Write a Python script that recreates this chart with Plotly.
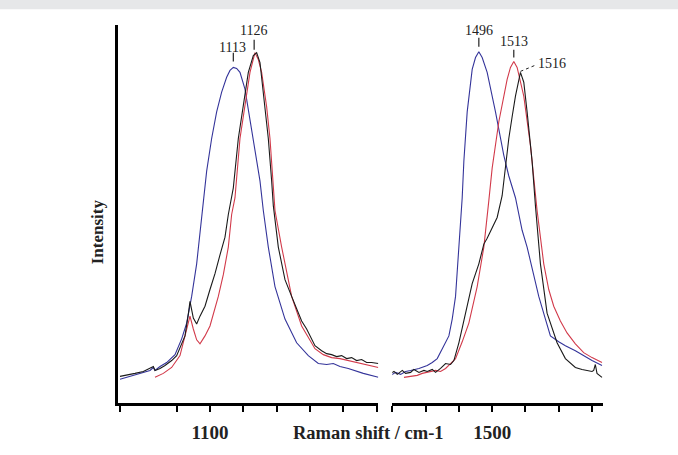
import plotly.graph_objects as go

# ---------------- data ----------------
# left window (~1045-1201 cm-1)
blue_l_x = [1046, 1050, 1055, 1060, 1064, 1066, 1067, 1070, 1074, 1079, 1083, 1086, 1089, 1092, 1095, 1098,
            1101, 1104, 1107, 1110, 1112, 1114, 1116, 1118, 1121, 1124, 1127, 1130, 1132, 1135, 1139,
            1145, 1152, 1159, 1165, 1170, 1174, 1178, 1183, 1192, 1201]
blue_l_y = [24, 26, 28, 31, 33, 36, 33, 37, 41, 49, 65, 81, 108, 141, 188, 235,
            268, 295, 315, 330, 337, 340, 339, 335, 318, 288, 258, 225, 195, 158, 118,
            85, 61, 48, 40, 39, 40, 37, 35, 30, 26]

black_l_x = [1046, 1050, 1055, 1060, 1064, 1066, 1067, 1070, 1073, 1077, 1080, 1085, 1087, 1088, 1090, 1092,
             1094, 1097, 1100, 1103, 1106, 1109, 1111, 1114, 1117, 1120, 1123, 1126, 1128, 1130, 1133,
             1135, 1137, 1138, 1141, 1145, 1149, 1152, 1155, 1158, 1163, 1167, 1170, 1173, 1176,
             1179, 1182, 1185, 1188, 1191, 1194, 1197, 1201]
black_l_y = [27, 28, 30, 32, 35, 37, 33, 35, 38, 43, 48, 68, 90, 103, 86, 80,
             88, 98, 115, 131, 150, 168, 191, 218, 268, 301, 335, 352, 355, 345, 300,
             268, 225, 200, 158, 125, 108, 95, 83, 75, 58, 53, 50, 49, 47,
             48, 45, 46, 43, 44, 41, 41, 40]

red_l_x = [1067, 1072, 1077, 1082, 1085, 1088, 1090, 1092, 1094, 1097, 1100, 1105, 1108, 1111, 1113, 1115,
           1118, 1121, 1124, 1127, 1129, 1131, 1134, 1136, 1138, 1139, 1143, 1149, 1155, 1163, 1168,
           1173, 1178, 1183, 1192, 1201]
red_l_y = [26, 30, 36, 48, 68, 88, 75, 64, 60, 68, 78, 108, 130, 158, 191, 208,
           268, 301, 335, 355, 348, 335, 300, 268, 215, 195, 158, 108, 78, 55, 49,
           46, 45, 43, 40, 36]

# right window (~1440-1567 cm-1)
blue_r_x = [1439, 1442, 1445, 1448, 1451, 1456, 1461, 1464, 1467, 1470, 1474, 1476, 1478, 1480, 1482, 1483,
            1485, 1488, 1490, 1492, 1494, 1497, 1502, 1507, 1510, 1514, 1518, 1521, 1525, 1528, 1532,
            1535, 1540, 1544, 1550, 1555, 1560, 1566]
blue_r_y = [28, 31, 29, 32, 33, 35, 38, 41, 45, 55, 68, 85, 108, 158, 208, 245,
            295, 338, 350, 356, 350, 335, 295, 251, 230, 208, 175, 158, 130, 108, 85,
            68, 62, 58, 53, 48, 43, 38]

red_r_x = [1447, 1451, 1455, 1458, 1461, 1466, 1469, 1472, 1475, 1478, 1482, 1486, 1491, 1495, 1498, 1500,
           1504, 1507, 1509, 1511, 1513, 1515, 1517, 1519, 1523, 1526, 1527, 1531, 1534, 1537, 1541,
           1545, 1550, 1555, 1560, 1566]
red_r_y = [26, 27, 28, 30, 31, 33, 32, 35, 40, 45, 62, 81, 118, 158, 205, 238,
           285, 310, 328, 340, 346, 340, 325, 311, 261, 210, 195, 141, 115, 98, 83,
           71, 60, 51, 46, 41]

black_r_x = [1439, 1441, 1443, 1446, 1448, 1451, 1453, 1456, 1459, 1461, 1464, 1466, 1469, 1471, 1472, 1475,
             1477, 1480, 1482, 1484, 1486, 1488, 1492, 1495, 1497, 1500, 1503, 1506, 1508, 1510, 1512,
             1514, 1517, 1519, 1521, 1524, 1526, 1529, 1533, 1536, 1539, 1544, 1550, 1554, 1557, 1560,
             1561, 1562, 1563, 1566]
black_r_y = [30, 32, 29, 33, 30, 31, 34, 31, 33, 32, 34, 31, 35, 38, 40, 39,
             43, 61, 76, 91, 106, 121, 141, 161, 167, 178, 188, 210, 240, 268, 290,
             311, 335, 325, 295, 245, 200, 141, 91, 75, 61, 45, 36, 34, 33, 32,
             33, 39, 30, 26]

left_ticks = [1046, 1080, 1100, 1120, 1140, 1160, 1180, 1200]
left_ticktext = ["", "", "1100", "", "", "", "", ""]
right_ticks = [1440, 1460, 1480, 1500, 1520, 1540, 1560]
right_ticktext = ["", "", "", "1500", "", "", ""]

peak_labels = ["1113", "1126", "1496", "1513", "1516"]

# ---------------- style ----------------
BLUE = "#34349a"
RED = "#d23a4a"
BLACK = "#1a1a1a"
SERIF = "Liberation Serif, Times New Roman, serif"

fig = go.Figure()
for xs, ys, col in [(blue_l_x, blue_l_y, BLUE), (red_l_x, red_l_y, RED), (black_l_x, black_l_y, BLACK)]:
    fig.add_trace(go.Scatter(x=xs, y=ys, mode="lines", line=dict(color=col, width=1.1),
                             xaxis="x", yaxis="y", showlegend=False, hoverinfo="skip"))
for xs, ys, col in [(blue_r_x, blue_r_y, BLUE), (red_r_x, red_r_y, RED), (black_r_x, black_r_y, BLACK)]:
    fig.add_trace(go.Scatter(x=xs, y=ys, mode="lines", line=dict(color=col, width=1.1),
                             xaxis="x2", yaxis="y2", showlegend=False, hoverinfo="skip"))

W, H = 678, 455
ML, MR, MT, MB = 118, 75, 25, 47
PW = W - ML - MR
PH = H - MT - MB
d1 = (378.3 - ML) / PW
d2 = (392.3 - ML) / PW

axis_common = dict(showline=True, linewidth=3, linecolor="black", ticks="outside", ticklen=6,
                   tickwidth=1.5, tickcolor="black", showgrid=False, zeroline=False,
                   tickfont=dict(family=SERIF, size=19, color="#222", weight="bold"),
                   ticklabelstandoff=4)

fig.update_layout(
    width=W, height=H,
    margin=dict(l=ML, r=MR, t=MT, b=MB),
    paper_bgcolor="white", plot_bgcolor="white",
    xaxis=dict(domain=[0, d1], range=[1044.8, 1201], tickmode="array", tickvals=left_ticks,
               ticktext=left_ticktext, anchor="y", **axis_common),
    xaxis2=dict(domain=[d2, 1], range=[1440, 1566.6], tickmode="array", tickvals=right_ticks,
                ticktext=right_ticktext, anchor="y2", **axis_common),
    yaxis=dict(domain=[0, 1], range=[0, 383], showline=True, linewidth=3, linecolor="black",
               showticklabels=False, ticks="", showgrid=False, zeroline=False, anchor="x"),
    yaxis2=dict(domain=[0, 1], range=[0, 383], visible=False, anchor="x2"),
)

# top grey band
fig.add_shape(type="rect", xref="paper", yref="paper", x0=-ML / PW - 0.01, x1=1 + MR / PW + 0.01,
              y0=1 + (MT - 9) / PH, y1=1 + MT / PH + 0.01, fillcolor="#e6e7e9", line=dict(width=0),
              layer="below")

# peak labels with tick marks
ann_font = dict(family=SERIF, size=14, color="#222")
peaks = [  # (label, xref, yref, text_x, text_y, tick_x, tick_y0, tick_y1)
    (peak_labels[0], "x", "y", 1113.5, 360, 1114, 346, 355),
    (peak_labels[1], "x", "y", 1126.4, 377, 1126.5, 358, 368),
    (peak_labels[2], "x2", "y2", 1492, 377, 1492, 361, 370),
    (peak_labels[3], "x2", "y2", 1513, 366, 1513, 350, 358),
]
for lab, xr, yr, tx, ty, kx, ky0, ky1 in peaks:
    fig.add_annotation(text=lab, x=tx, y=ty, xref=xr, yref=yr, showarrow=False, font=ann_font,
                       xanchor="center", yanchor="middle")
    fig.add_shape(type="line", xref=xr, yref=yr, x0=kx, x1=kx, y0=ky0, y1=ky1,
                  line=dict(color="#222", width=1.2))
fig.add_annotation(text=peak_labels[4], x=1536, y=344, xref="x2", yref="y2", showarrow=False,
                   font=ann_font, xanchor="center", yanchor="middle")
fig.add_shape(type="line", xref="x2", yref="y2", x0=1517, x1=1527, y0=336, y1=343,
              line=dict(color="#222", width=1, dash="dot"))

# axis titles
fig.add_annotation(text="<b>Raman shift / cm-1</b>", xref="paper", yref="paper",
                   x=(368 - ML) / PW, y=-(438 - (MT + PH)) / PH, showarrow=False,
                   font=dict(family=SERIF, size=18.5, color="#222"), xanchor="center", yanchor="middle")
fig.add_annotation(text="<b>Intensity</b>", xref="paper", yref="paper",
                   x=(97 - ML) / PW, y=1 - (235 - MT) / PH, showarrow=False, textangle=-90,
                   font=dict(family=SERIF, size=17, color="#222"), xanchor="center", yanchor="middle")

fig.write_html("out.html", config={"displayModeBar": False},
               post_script="document.body.style.margin='0';document.body.style.padding='0';")
